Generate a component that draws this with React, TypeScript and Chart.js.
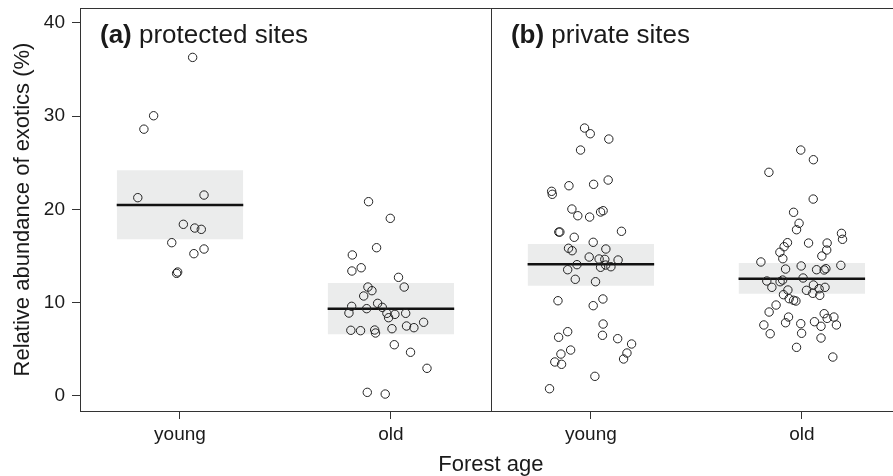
import React, { useEffect, useRef } from "react";
import { Chart, registerables } from "chart.js";

Chart.register(...registerables);

// ---------- data ----------
const categories = ["young", "old"];
const panelLetters = ["(a)", "(b)"];
const panelNames = ["protected sites", "private sites"];
const yTickValues = [0, 10, 20, 30, 40];
const xTitle = "Forest age";
const yTitle = "Relative abundance of exotics (%)";

const protectedYoungY = [36.3, 30.04, 28.6, 21.25, 21.53, 18.39, 17.99, 17.85, 16.42, 15.24, 15.74, 13.13, 13.27];
const protectedYoungJitter = [0.06, -0.125, -0.171, -0.2, 0.114, 0.016, 0.07, 0.101, -0.039, 0.066, 0.114, -0.016, -0.011];

const protectedOldY = [20.82, 19.03, 15.88, 15.1, 13.38, 13.73, 12.7, 11.66, 11.66, 11.27, 10.7, 9.59, 8.87, 9.34, 9.91, 9.48, 8.84, 8.73, 8.37, 8.84, 7.02, 6.98, 7.05, 6.73, 7.19, 7.48, 7.3, 7.88, 5.47, 4.66, 2.94, 0.36, 0.18];
const protectedOldJitter = [-0.106, -0.003, -0.068, -0.183, -0.185, -0.141, 0.036, 0.063, -0.109, -0.09, -0.129, -0.186, -0.199, -0.115, -0.063, -0.041, -0.019, 0.019, -0.011, 0.07, -0.19, -0.144, -0.077, -0.073, 0.005, 0.074, 0.109, 0.155, 0.016, 0.093, 0.171, -0.112, -0.027];

const privateYoungY = [28.72, 28.11, 27.54, 26.36, 23.14, 22.68, 22.53, 21.93, 21.61, 20.03, 19.31, 19.17, 19.71, 19.85, 17.56, 17.56, 17.64, 17.0, 16.46, 15.82, 15.56, 15.74, 14.88, 14.67, 14.63, 14.56, 14.06, 13.52, 13.78, 14.02, 13.84, 12.49, 12.23, 10.19, 10.38, 9.66, 7.69, 6.87, 6.27, 6.48, 6.12, 5.55, 4.9, 4.47, 4.58, 3.94, 3.62, 3.37, 2.08, 0.75];
const privateYoungJitter = [-0.03, -0.003, 0.085, -0.049, 0.082, 0.013, -0.104, -0.186, -0.183, -0.09, -0.062, -0.006, 0.046, 0.058, -0.152, -0.147, 0.145, -0.079, 0.011, -0.106, -0.089, 0.071, -0.008, 0.039, 0.066, 0.129, -0.066, -0.11, 0.046, 0.07, 0.095, -0.074, 0.022, -0.156, 0.057, 0.011, 0.058, -0.11, -0.153, 0.055, 0.127, 0.193, -0.096, -0.142, 0.171, 0.155, -0.171, -0.139, 0.019, -0.196];

const privateOldY = [26.36, 25.32, 23.97, 21.1, 19.68, 18.5, 17.81, 17.42, 16.78, 16.42, 15.99, 16.38, 16.38, 15.63, 15.39, 14.7, 14.99, 14.35, 13.92, 13.99, 13.59, 13.52, 13.49, 13.63, 12.63, 12.31, 12.23, 12.41, 11.63, 11.34, 11.31, 11.88, 11.48, 11.63, 10.99, 10.77, 10.84, 10.41, 10.24, 10.16, 9.73, 8.98, 8.8, 8.3, 8.44, 8.44, 7.83, 7.73, 7.94, 7.45, 7.59, 7.59, 6.65, 6.7, 6.19, 5.19, 4.15];
const privateOldJitter = [-0.005, 0.055, -0.156, 0.054, -0.039, -0.013, -0.025, 0.188, 0.193, -0.068, -0.084, 0.032, 0.12, 0.118, -0.104, -0.09, 0.095, -0.194, -0.003, 0.185, -0.077, 0.07, 0.106, 0.114, 0.006, -0.166, -0.103, -0.091, -0.142, -0.066, 0.022, 0.055, 0.082, 0.11, 0.052, 0.085, -0.087, -0.06, -0.039, -0.028, -0.122, -0.155, 0.106, 0.12, 0.152, -0.063, -0.077, -0.005, 0.06, 0.091, 0.164, -0.18, -0.15, -0.001, 0.091, -0.025, 0.147];

const groupMeans = [20.46, 9.33, 14.1, 12.55];
const groupCiLow = [16.8, 6.59, 11.8, 10.94];
const groupCiHigh = [24.2, 12.09, 16.28, 14.24];

// ---------- layout ----------
const groupCenters = [1, 2, 2.948, 3.948];
const panelStarts = [0.526, 2.474];
const X_MIN = 0.526;
const X_MAX = 4.422;
const Y_MIN = -1.64;
const Y_MAX = 41.6;
const BOX_HALF = 0.3;
const CANVAS_W = 907;
const CANVAS_H = 476;
const FONT = "'Liberation Sans', Arial, Helvetica, sans-serif";
const TEXT = "#1a1a1a";
const AXIS = "#333333";
const BOX_FILL = "#ebecec";

const groupsY = [protectedYoungY, protectedOldY, privateYoungY, privateOldY];
const groupsJitter = [protectedYoungJitter, protectedOldJitter, privateYoungJitter, privateOldJitter];

const framePlugin = {
  id: "frame",
  afterDraw(chart: any) {
    const { ctx, chartArea, scales } = chart;
    const xs = scales.x;
    ctx.save();
    ctx.strokeStyle = AXIS;
    ctx.lineWidth = 1;
    // top border
    ctx.beginPath();
    ctx.moveTo(chartArea.left, chartArea.top + 0.5);
    ctx.lineTo(chartArea.right, chartArea.top + 0.5);
    ctx.stroke();
    // panel divider
    const dx = Math.round(xs.getPixelForValue(panelStarts[1])) + 0.5;
    ctx.beginPath();
    ctx.moveTo(dx, chartArea.top);
    ctx.lineTo(dx, chartArea.bottom);
    ctx.stroke();
    // panel titles
    ctx.fillStyle = TEXT;
    ctx.textBaseline = "alphabetic";
    ctx.textAlign = "left";
    panelStarts.forEach((p, i) => {
      const x0 = xs.getPixelForValue(p) + 20;
      const y0 = chartArea.top + 35;
      ctx.font = `bold 26px ${FONT}`;
      ctx.fillText(panelLetters[i], x0, y0);
      const w = ctx.measureText(panelLetters[i] + " ").width;
      ctx.font = `26px ${FONT}`;
      ctx.fillText(panelNames[i], x0 + w, y0);
    });
    ctx.restore();
  },
};

export default function App() {
  const canvasRef = useRef<HTMLCanvasElement | null>(null);

  useEffect(() => {
    if (!canvasRef.current) return;
    Chart.defaults.font.family = FONT;

    const datasets: any[] = [];
    groupCenters.forEach((c, g) => {
      datasets.push({
        type: "line",
        data: [{ x: c - BOX_HALF, y: groupCiHigh[g] }, { x: c + BOX_HALF, y: groupCiHigh[g] }],
        borderColor: "rgba(0,0,0,0)",
        borderWidth: 1,
        pointRadius: 0,
        fill: false,
        order: 3,
      });
      datasets.push({
        type: "line",
        data: [{ x: c - BOX_HALF, y: groupCiLow[g] }, { x: c + BOX_HALF, y: groupCiLow[g] }],
        borderColor: "rgba(0,0,0,0)",
        borderWidth: 1,
        pointRadius: 0,
        fill: "-1",
        backgroundColor: BOX_FILL,
        order: 3,
      });
    });
    groupCenters.forEach((c, g) => {
      datasets.push({
        type: "line",
        data: [{ x: c - BOX_HALF, y: groupMeans[g] }, { x: c + BOX_HALF, y: groupMeans[g] }],
        borderColor: "#111111",
        borderWidth: 2.6,
        pointRadius: 0,
        fill: false,
        order: 2,
      });
    });
    groupCenters.forEach((c, g) => {
      datasets.push({
        type: "scatter",
        data: groupsY[g].map((y, i) => ({ x: c + groupsJitter[g][i], y })),
        pointRadius: 4.2,
        pointBorderWidth: 1,
        borderColor: "#222222",
        backgroundColor: "rgba(0,0,0,0)",
        pointBackgroundColor: "rgba(0,0,0,0)",
        pointBorderColor: "#222222",
        showLine: false,
        order: 1,
      });
    });

    const chart = new Chart(canvasRef.current, {
      type: "scatter",
      data: { datasets },
      plugins: [framePlugin],
      options: {
        animation: false,
        responsive: false,
        layout: { padding: { top: 8, left: 0, right: 0, bottom: 0 } },
        plugins: { legend: { display: false }, tooltip: { enabled: false } },
        scales: {
          x: {
            type: "linear",
            min: X_MIN,
            max: X_MAX,
            afterBuildTicks: (s: any) => {
              s.ticks = groupCenters.map((v) => ({ value: v }));
            },
            afterFit: (s: any) => {
              s.height = 65;
              s.paddingLeft = 0;
              s.paddingRight = 0;
            },
            ticks: {
              autoSkip: false,
              maxRotation: 0,
              padding: 4,
              color: TEXT,
              font: { size: 19 },
              callback: (_v: any, i: number) => categories[i % 2],
            },
            grid: { drawOnChartArea: false, drawTicks: true, tickLength: 8, color: AXIS },
            border: { display: true, color: AXIS, width: 1 },
            title: {
              display: true,
              text: xTitle,
              color: TEXT,
              font: { size: 22, lineHeight: 1 },
              padding: 0,
            },
          },
          y: {
            type: "linear",
            min: Y_MIN,
            max: Y_MAX,
            afterBuildTicks: (s: any) => {
              s.ticks = yTickValues.map((v) => ({ value: v }));
            },
            afterFit: (s: any) => {
              s.width = 80;
              s.paddingTop = 0;
              s.paddingBottom = 0;
            },
            ticks: { padding: 7, color: TEXT, font: { size: 19 } },
            grid: { drawOnChartArea: false, drawTicks: true, tickLength: 8, color: AXIS },
            border: { display: true, color: AXIS, width: 1 },
            title: {
              display: true,
              text: yTitle,
              color: TEXT,
              font: { size: 22, lineHeight: 1.2 },
              padding: { top: 10, bottom: 0 },
            },
          },
        },
      } as any,
    });
    return () => chart.destroy();
  }, []);

  return (
    <div style={{ position: "fixed", left: 0, top: 0, width: 893, height: 476, overflow: "hidden", background: "#fff" }}>
      <canvas ref={canvasRef} width={CANVAS_W} height={CANVAS_H} style={{ display: "block", width: CANVAS_W, height: CANVAS_H }} />
    </div>
  );
}
